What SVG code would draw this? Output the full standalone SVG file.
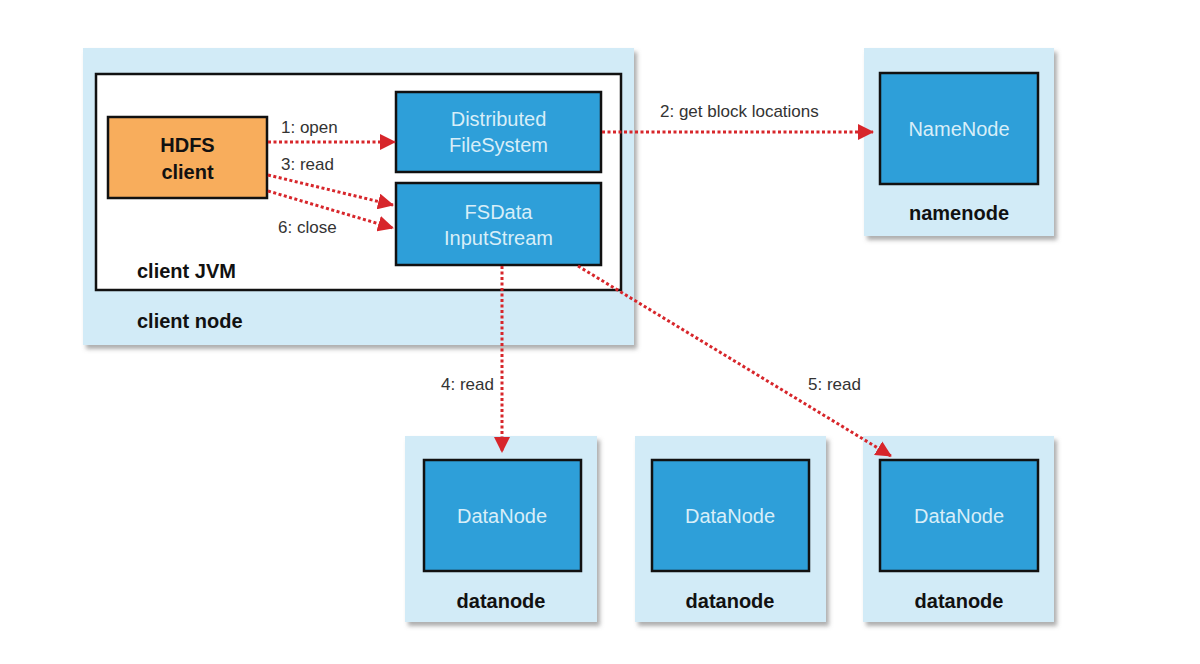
<svg xmlns="http://www.w3.org/2000/svg" width="1200" height="664" viewBox="0 0 1200 664">
<defs>
<filter id="sh" x="-5%" y="-5%" width="115%" height="115%"><feDropShadow dx="3" dy="4" stdDeviation="2" flood-color="#777" flood-opacity="0.6"/></filter>
<marker id="ah" viewBox="0 0 16 16" refX="15" refY="8" markerWidth="16" markerHeight="16" markerUnits="userSpaceOnUse" orient="auto"><path d="M0,0 L16,8 L0,16 Z" fill="#d7262b"/></marker>
<style>
.outer{fill:#d2ebf7;filter:url(#sh)}
.inner{fill:#2e9fd9;stroke:#111;stroke-width:2.5}
.itxt{font-family:"Liberation Sans",Arial,sans-serif;font-size:20px;fill:#d8eef8;text-anchor:middle}
.lbl{font-family:"Liberation Sans",Arial,sans-serif;font-size:20px;font-weight:bold;fill:#111}
.clbl{font-family:"Liberation Sans",Arial,sans-serif;font-size:17px;fill:#333}
.conn{fill:none;stroke:#d7262b;stroke-width:3;stroke-dasharray:3 2.5;marker-end:url(#ah)}
</style>
</defs>
<rect width="1200" height="664" fill="#fff"/>
<g id="client-node">
<rect class="outer" x="83" y="48" width="551" height="297"/>
<text class="lbl" x="137" y="328">client node</text>
</g>
<g id="client-jvm">
<rect x="96" y="74" width="525" height="216" fill="#fff" stroke="#111" stroke-width="2.5"/>
<text class="lbl" x="137" y="278">client JVM</text>
</g>
<g id="hdfs-client">
<rect x="108" y="117" width="159" height="81" fill="#f8ad5c" stroke="#111" stroke-width="2.5"/>
<text class="lbl" x="187.5" y="152" text-anchor="middle" font-size="22">HDFS</text>
<text class="lbl" x="187.5" y="179" text-anchor="middle" font-size="22">client</text>
</g>
<g id="distributed-filesystem">
<rect class="inner" x="396" y="92" width="205" height="80"/>
<text class="itxt" x="498.5" y="126">Distributed</text>
<text class="itxt" x="498.5" y="152">FileSystem</text>
</g>
<g id="fsdata-inputstream">
<rect class="inner" x="396" y="183" width="205" height="82"/>
<text class="itxt" x="498.5" y="219">FSData</text>
<text class="itxt" x="498.5" y="245">InputStream</text>
</g>
<g id="namenode">
<rect class="outer" x="864" y="48" width="190" height="188"/>
<rect class="inner" x="880" y="73" width="158" height="111"/>
<text class="itxt" x="959" y="136">NameNode</text>
<text class="lbl" x="959" y="220" text-anchor="middle">namenode</text>
</g>
<g id="datanode1">
<rect class="outer" x="405" y="436" width="192" height="186"/>
<rect class="inner" x="424" y="460" width="157" height="111"/>
<text class="itxt" x="502" y="523">DataNode</text>
<text class="lbl" x="501" y="608" text-anchor="middle">datanode</text>
</g>
<g id="datanode2">
<rect class="outer" x="635" y="436" width="191" height="186"/>
<rect class="inner" x="652" y="460" width="157" height="111"/>
<text class="itxt" x="730" y="523">DataNode</text>
<text class="lbl" x="730" y="608" text-anchor="middle">datanode</text>
</g>
<g id="datanode3">
<rect class="outer" x="863" y="436" width="191" height="186"/>
<rect class="inner" x="880" y="460" width="158" height="111"/>
<text class="itxt" x="959" y="523">DataNode</text>
<text class="lbl" x="959" y="608" text-anchor="middle">datanode</text>
</g>
<g id="connectors">
<line class="conn" x1="268" y1="142" x2="395" y2="142"/>
<line class="conn" x1="268" y1="175" x2="393" y2="205"/>
<line class="conn" x1="268" y1="191" x2="393" y2="228"/>
<line class="conn" x1="602" y1="132" x2="873" y2="132"/>
<line class="conn" x1="502" y1="266" x2="502" y2="452"/>
<line class="conn" x1="578" y1="266" x2="891" y2="456"/>
<text class="clbl" x="281" y="133">1: open</text>
<text class="clbl" x="281" y="170">3: read</text>
<text class="clbl" x="278" y="233">6: close</text>
<text class="clbl" x="660" y="117">2: get block locations</text>
<text class="clbl" x="441" y="390">4: read</text>
<text class="clbl" x="808" y="390">5: read</text>
</g>
</svg>
